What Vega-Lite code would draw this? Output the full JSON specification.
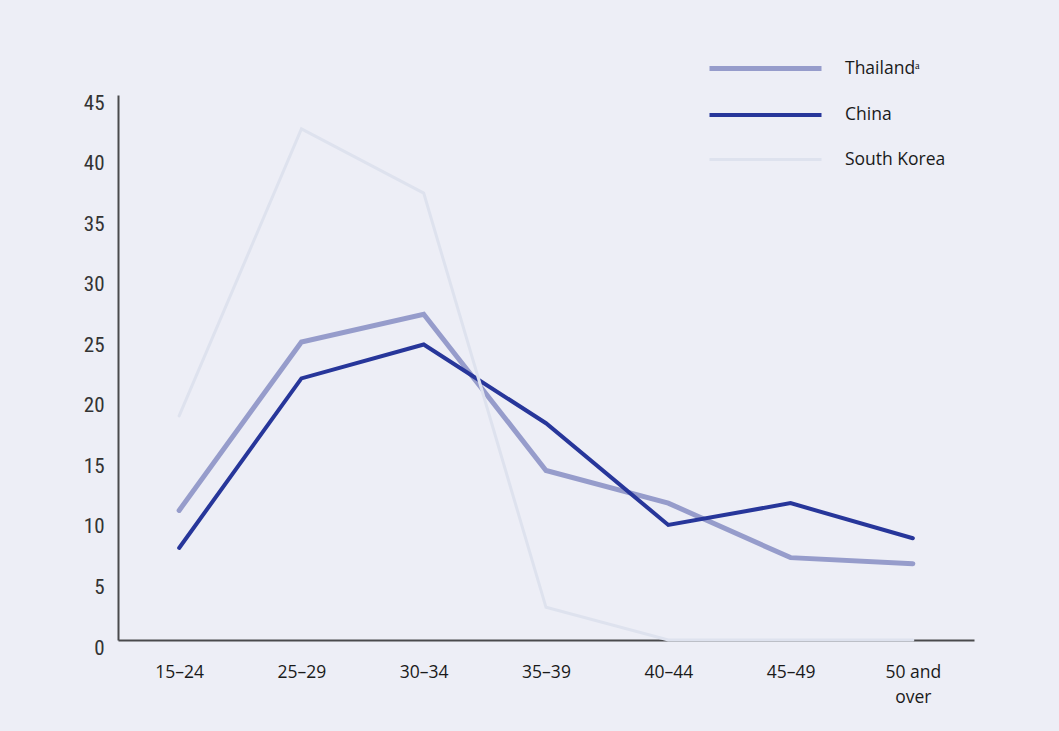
{
  "$schema": "https://vega.github.io/schema/vega-lite/v6.json",
  "width": 856,
  "height": 545,
  "autosize": {"type": "none"},
  "padding": {"left": 118, "top": 95, "right": 85, "bottom": 91},
  "background": "#EDEEF6",
  "config": {"view": {"stroke": null}},
  "data": {
    "values": [
      {"age": "15–24", "country": "Thailandᵃ", "value": 10.7},
      {"age": "25–29", "country": "Thailandᵃ", "value": 24.6},
      {"age": "30–34", "country": "Thailandᵃ", "value": 26.9},
      {"age": "35–39", "country": "Thailandᵃ", "value": 14.0},
      {"age": "40–44", "country": "Thailandᵃ", "value": 11.3},
      {"age": "45–49", "country": "Thailandᵃ", "value": 6.8},
      {"age": "50 and over", "country": "Thailandᵃ", "value": 6.3},
      {"age": "15–24", "country": "China", "value": 7.6},
      {"age": "25–29", "country": "China", "value": 21.6},
      {"age": "30–34", "country": "China", "value": 24.4},
      {"age": "35–39", "country": "China", "value": 17.9},
      {"age": "40–44", "country": "China", "value": 9.5},
      {"age": "45–49", "country": "China", "value": 11.3},
      {"age": "50 and over", "country": "China", "value": 8.4},
      {"age": "15–24", "country": "South Korea", "value": 18.5},
      {"age": "25–29", "country": "South Korea", "value": 42.2},
      {"age": "30–34", "country": "South Korea", "value": 36.9},
      {"age": "35–39", "country": "South Korea", "value": 2.7},
      {"age": "40–44", "country": "South Korea", "value": 0},
      {"age": "45–49", "country": "South Korea", "value": 0},
      {"age": "50 and over", "country": "South Korea", "value": 0}
    ]
  },
  "mark": {"type": "line", "strokeCap": "round", "strokeJoin": "miter"},
  "encoding": {
    "x": {
      "field": "age", "type": "ordinal", "sort": null,
      "scale": {"type": "point", "padding": 0.5},
      "axis": {
        "title": null, "labelAngle": 0, "ticks": false, "grid": false,
        "domainColor": "#4A4A4C", "domainWidth": 2,
        "labelFont": "Open Sans", "labelFontSize": 17.5, "labelColor": "#1A1A1A",
        "labelPadding": 32, "labelBaseline": "middle", "labelLineHeight": 25,
        "labelExpr": "datum.value == '50 and over' ? ['50 and', 'over'] : datum.value"
      }
    },
    "y": {
      "field": "value", "type": "quantitative",
      "scale": {"domain": [0, 45], "nice": false, "zero": true},
      "axis": {
        "title": null, "values": [0, 5, 10, 15, 20, 25, 30, 35, 40, 45],
        "ticks": false, "grid": false,
        "domainColor": "#4A4A4C", "domainWidth": 2,
        "labelFont": "Liberation Sans Narrow, Roboto Condensed, Roboto", "labelFontSize": 21, "labelColor": "#333333",
        "labelPadding": 14, "labelOffset": 8
      }
    },
    "color": {
      "field": "country", "type": "nominal",
      "scale": {"domain": ["Thailandᵃ", "China", "South Korea"], "range": ["#969CCB", "#27369A", "#DEE2EE"]},
      "legend": {
        "title": null, "orient": "none", "legendX": 617, "legendY": -57,
        "symbolType": "M-2,0H2", "symbolSize": 3136,
        "labelFont": "Open Sans", "labelFontSize": 17.5, "labelColor": "#1A1A1A",
        "labelOffset": 49, "rowPadding": 6
      }
    },
    "strokeWidth": {
      "field": "country", "type": "nominal",
      "scale": {"domain": ["Thailandᵃ", "China", "South Korea"], "range": [5, 3, 3]},
      "legend": null
    },
    "order": {"field": "country"}
  }
}
